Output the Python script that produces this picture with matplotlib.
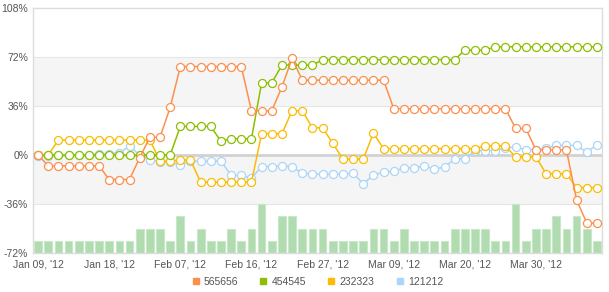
import matplotlib
matplotlib.use("Agg")
import matplotlib.pyplot as plt
from matplotlib.lines import Line2D
import numpy as np

# ---------------------------------------------------------------------------
# Data (percent change per trading day)
# ---------------------------------------------------------------------------
series_names = ["565656", "454545", "232323", "121212"]

s565656 = ([0] + [-8] * 6 + [-18] * 3 + [-2] + [13] * 2 + [35] + [65] * 7
           + [32.5] * 3 + [50, 71] + [55] * 9 + [34] * 12 + [19.5] * 2
           + [3.7] * 4 + [-33] + [-50] * 2)
s454545 = ([0] * 14 + [21] * 4 + [10] + [12] * 3 + [53] * 2 + [66] * 4
           + [70] * 14 + [77] * 3 + [79.5] * 11)
s232323 = ([0] * 2 + [11] * 10 + [-4.5] * 2 + [-3.7] * 2 + [-20] * 6
           + [15.7] * 3 + [32.5] * 2 + [20] * 2 + [8.6] + [-3] * 3 + [16]
           + [4.7] * 10 + [6.6] * 3 + [-1.5] * 3 + [-13.7] * 3 + [-24] * 3)
s121212 = [-1, -1, 0, 0, 0, 0, 1, 1, 1.5, 6.5, 0, -3.5, -5, -5.5, -7, -4.5,
           -4.5, -4.5, -4.5, -15, -15, -17, -8.5, -8.5, -8, -8.5, -13.5, -14,
           -14, -14, -14, -13.5, -21, -15, -12.5, -12, -9.5, -9.5, -8, -10.3,
           -8.8, -3, -2.8, 3.3, 3.3, 3.3, 5.3, 5.7, 4, 4, 5, 7, 7, 7, 2, 7.5]

# volume bars in steps (one step = 9% on the axis, stacked from the bottom)
volume = ([1] * 10 + [2] * 3 + [1, 3, 1, 2, 1, 1, 2, 1, 2, 4, 1, 3, 3, 2, 2, 2]
          + [1] * 4 + [2, 2, 1, 2] + [1] * 4 + [2] * 4 + [1, 1, 4, 1, 2, 2, 3,
          2, 3, 2, 1])

date_ticks = ["Jan 09, '12", "Jan 18, '12", "Feb 07, '12", "Feb 16, '12",
              "Feb 27, '12", "Mar 09, '12", "Mar 20, '12", "Mar 30, '12"]
tick_step = 7

y_ticks = [-72, -36, 0, 36, 72, 108]

colors = {"565656": "#fd8f4f", "454545": "#8cbf00",
          "232323": "#fbbc05", "121212": "#acd5f7"}
zorders = {"565656": 6, "454545": 5, "232323": 4, "121212": 3}

# ---------------------------------------------------------------------------
plt.rcParams["font.family"] = ["Liberation Sans", "DejaVu Sans"]
text_color = "#555555"

fig = plt.figure(figsize=(6.09, 2.92), dpi=100)
ax = fig.add_axes([33 / 609, 1 - 253 / 292, (602 - 33) / 609, (253 - 8) / 292])

x = np.arange(len(s565656))
ymin, ymax = y_ticks[0], y_ticks[-1]

# alternating bands
for lo, hi in [(36, 72), (-36, 0)]:
    ax.axhspan(lo, hi, color="#f5f5f5", zorder=0, lw=0)
for yv in [36, 72, -36]:
    ax.axhline(yv, color="#e6e6e6", lw=0.8, zorder=1)

# volume bars
step = (ymax - ymin) / 20
ax.bar(x, np.array(volume) * step, bottom=ymin, width=0.76,
       color="#b0dcb0", edgecolor="#c9e8c9", linewidth=0.8, zorder=1.5)

ax.axhline(0, color="#d2d2d2", lw=2, zorder=2)

series = {"565656": s565656, "454545": s454545,
          "232323": s232323, "121212": s121212}
for name in series_names:
    ax.plot(x, series[name], color=colors[name], lw=1.1, marker="o",
            markersize=5.8, markerfacecolor="white",
            markeredgecolor=colors[name], markeredgewidth=0.9,
            zorder=zorders[name])

ax.set_xlim(-0.5, len(x) - 0.5)
ax.set_ylim(ymin, ymax)
ax.set_yticks(y_ticks)
ax.set_yticklabels([f"{v}%" for v in y_ticks])
ax.set_xticks(np.arange(0, len(x), tick_step)[:len(date_ticks)])
ax.set_xticklabels(date_ticks)
ax.tick_params(axis="both", length=0, labelsize=7.5, colors=text_color)
ax.tick_params(axis="y", pad=3.5)
ax.tick_params(axis="x", pad=5)
for sp in ax.spines.values():
    sp.set_color("#dcdcdc")
    sp.set_linewidth(1)

handles = [Line2D([], [], ls="", marker="s", markersize=5,
                  markerfacecolor=colors[n], markeredgecolor=colors[n])
           for n in series_names]
leg = fig.legend(handles, series_names, loc="center", ncol=4,
                 bbox_to_anchor=(0.521, 0.034), frameon=False, fontsize=7.5,
                 handlelength=0.8, handletextpad=0.4, columnspacing=2.0,
                 borderpad=0)
for t in leg.get_texts():
    t.set_color(text_color)

fig.savefig("out.png", dpi=100)
